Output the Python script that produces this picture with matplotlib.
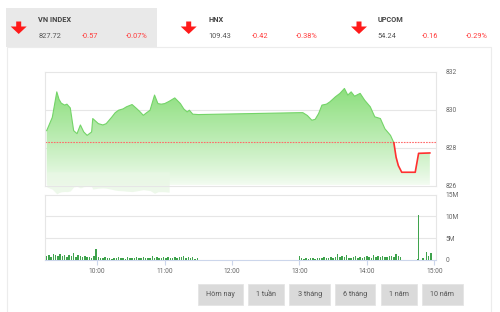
"""VN-Index intraday widget: price area + volume bars + header and range buttons."""
import matplotlib

matplotlib.use("Agg")
import matplotlib.pyplot as plt
import numpy as np
from matplotlib.patches import FancyArrow, Rectangle

plt.rcParams["font.family"] = ["Roboto", "DejaVu Sans"]

# ---- header quotes
INDEX_NAMES = ["VN INDEX", "HNX", "UPCOM"]
INDEX_VALUES = ["827.72", "109.43", "54.24"]
INDEX_CHANGES = ["-0.57", "-0.42", "-0.16"]
INDEX_PCTS = ["-0.07%", "-0.38%", "-0.29%"]

# ---- intraday price (time, index level)
PRICE_TIMES = [
    "09:15", "09:20", "09:24", "09:26", "09:28", "09:31", "09:33", "09:36", "09:39",
    "09:42", "09:45", "09:48", "09:51", "09:55", "09:56", "10:01", "10:05", "10:08",
    "10:13", "10:16", "10:19", "10:23", "10:26", "10:31", "10:35", "10:38", "10:41",
    "10:44", "10:47", "10:51", "10:54", "10:57", "11:00", "11:04", "11:09", "11:14",
    "11:17", "11:20", "11:22", "11:25", "11:30",
    "13:00", "13:03", "13:07", "13:11", "13:14", "13:17", "13:20", "13:24", "13:27",
    "13:32", "13:36", "13:40", "13:43", "13:46", "13:49", "13:54", "13:58", "14:03",
    "14:07", "14:12", "14:16", "14:21", "14:24", "14:26", "14:28", "14:31", "14:43",
    "14:46", "14:56",
]
PRICE_VALUES = [
    828.90, 829.60, 830.95, 830.55, 830.35, 830.25, 830.30, 830.10, 828.90,
    828.74, 829.20, 828.83, 828.65, 828.83, 829.54, 829.27, 829.20, 829.27,
    829.62, 829.85, 829.98, 830.05, 830.16, 830.28, 830.07, 829.90, 829.71,
    829.85, 829.98, 830.78, 830.33, 830.30, 830.33, 830.45, 830.63, 830.33,
    830.05, 829.89, 829.98, 829.77, 829.75,
    829.85, 829.85, 829.70, 829.45, 829.50, 829.80, 830.25, 830.30, 830.42,
    830.69, 830.87, 831.13, 830.78, 830.95, 830.72, 830.87, 830.51, 830.16,
    829.63, 829.54, 829.00, 828.65, 828.26, 827.49, 827.05, 826.70, 826.70,
    827.70, 827.72,
]
REFERENCE = 828.29

# ---- volume (millions of shares), sampled every 2 minutes in each session
VOL_STEP_MIN = 2
MORNING_START = "09:15"
MORNING_VOL = [
    1.0, 1.2, 0.8, 1.3, 1.1, 0.9, 1.4, 1.0, 1.2, 0.7, 1.1, 1.0, 1.6, 0.8, 1.2, 0.9,
    0.6, 1.0, 0.7, 0.8, 0.5, 0.9, 2.6, 0.6, 0.5, 0.4, 0.6, 0.4, 0.5, 0.3, 0.5, 0.4,
    0.6, 0.4, 0.5, 0.3, 0.6, 0.4, 0.5, 0.4, 0.7, 0.4, 0.5, 0.6, 0.4, 0.5, 0.4, 0.9,
    0.5, 0.6, 0.4, 0.5, 0.8, 0.4, 0.6, 0.5, 0.4, 0.7, 0.5, 0.8, 0.6, 0.9, 0.5, 0.7,
    0.4, 0.6, 0.3, 0.5,
]
AFTERNOON_START = "13:00"
AFTERNOON_VOL = [
    0.9, 0.4, 0.3, 0.4, 0.3, 0.4, 0.5, 0.3, 0.4, 0.5, 0.4, 0.6, 0.5, 0.4, 0.7, 0.5,
    0.6, 1.4, 0.8, 1.0, 0.6, 1.1, 0.5, 0.4, 0.6, 0.9, 0.5, 0.7, 0.4, 0.6, 1.0, 0.7,
    0.5, 1.1, 0.8, 0.9, 0.6, 1.0, 0.8, 0.7, 1.0, 0.9, 0.8, 1.4, 0.9, 0.7,
]
CLOSE_TIMES = ["14:45", "14:46", "14:50", "14:53", "14:55", "14:57"]
CLOSE_VOL = [0.2, 10.2, 0.5, 1.8, 0.9, 1.5]

HOUR_LABELS = ["10:00", "11:00", "12:00", "13:00", "14:00", "15:00"]
PRICE_TICKS = [826, 828, 830, 832]
VOL_TICKS = [0, 5, 10, 15]
VOL_TICK_LABELS = ["0", "5M", "10M", "15M"]
BUTTONS = ["Hôm nay", "1 tuần", "3 tháng", "6 tháng", "1 năm", "10 năm"]

GREEN_LINE = "#74d468"
GREEN_TOP = np.array([0.47, 0.85, 0.40])
RED = "#ff3030"
GRID = "#e6e6e6"
AXIS_BLUE = "#ccd6eb"
TXT = "#666666"


def minutes(hhmm):
    h, m = hhmm.split(":")
    return int(h) * 60 + int(m)


t_price = np.array([minutes(s) for s in PRICE_TIMES], dtype=float)
p = np.array(PRICE_VALUES)

fig = plt.figure(figsize=(5.0, 3.12), dpi=100, facecolor="white")

# overlay in pixel coordinates for the page chrome
ov = fig.add_axes([0, 0, 1, 1], zorder=0)
ov.set_xlim(0, 500)
ov.set_ylim(312, 0)
ov.axis("off")
ov.add_patch(Rectangle((7, 47), 484, 270, facecolor="white", edgecolor="#ececec", lw=0.8))
ov.add_patch(Rectangle((6, 8), 151, 39, facecolor="#e9e9e9", edgecolor="none"))

arrow_x = [18.7, 188.7, 359.0]
name_x = [38.3, 208.3, 377.7]
chg_x = [81.7, 251.7, 421.7]
pct_x = [126.0, 296.0, 466.0]
for i in range(3):
    ov.add_patch(FancyArrow(arrow_x[i], 21.5, 0, 12.5, width=5.0, head_width=16,
                            head_length=7.5, length_includes_head=True,
                            color="#ff1a1a", lw=0))
    ov.text(name_x[i], 20.5, INDEX_NAMES[i], fontsize=5.3, fontweight="bold",
            color="#444444", va="center", ha="left")
    ov.text(name_x[i], 36, INDEX_VALUES[i], fontsize=5.3, color="#555555",
            va="center", ha="left")
    ov.text(chg_x[i], 36, INDEX_CHANGES[i], fontsize=5.3, color="#ff3b3b",
            va="center", ha="left")
    ov.text(pct_x[i], 36, INDEX_PCTS[i], fontsize=5.3, color="#ff3b3b",
            va="center", ha="left")

btn_left = [198.3, 248.3, 289.3, 335.0, 380.7, 421.7]
btn_right = [243.3, 284.3, 330.0, 375.0, 417.3, 462.7]
for lab, l, r in zip(BUTTONS, btn_left, btn_right):
    ov.add_patch(Rectangle((l, 284), r - l, 21, facecolor="#dadada",
                           edgecolor="#e4e4e4", lw=0.6))
    ov.text((l + r) / 2, 294.5, lab, fontsize=5.2, color="#555555",
            ha="center", va="center")

XMIN, XMAX = 553.5, 901.5

# ---- price panel
ax = fig.add_axes([0.09, 1 - 185.5 / 312, 0.782, (185.5 - 72) / 312], zorder=1)
ax.set_facecolor("none")
ax.set_xlim(XMIN, XMAX)
ax.set_ylim(826, 832)

poly = ax.fill_between(t_price, p, 826, facecolor="none", edgecolor="none")
frac = np.linspace(0, 1, 256)[:, None]
a = 0.08 + 0.88 * frac ** 0.85
grad = (1 - a[..., None]) * np.ones(3) + a[..., None] * GREEN_TOP
im = ax.imshow(grad, extent=[XMIN, XMAX, 826, 832], origin="lower",
               aspect="auto", zorder=1)
im.set_clip_path(poly.get_paths()[0], transform=ax.transData)

# faint reflection under the morning curve (rendering artefact in the source)
morning = t_price <= minutes("11:07")
ax.fill_between(t_price[morning], 826.72, 825.8 - (p[morning] - 829.6) * 0.18,
                color="#e9f7e5", alpha=0.8, lw=0, clip_on=False, zorder=1.5)

cross = PRICE_TIMES.index("14:24")
ax.plot(t_price[:cross + 1], p[:cross + 1], color=GREEN_LINE, lw=0.8, zorder=3)
ax.plot(t_price[cross:], p[cross:], color=RED, lw=1.2, zorder=3)
ax.axhline(REFERENCE, color="#ff6b6b", lw=0.8, ls=(0, (1.5, 1)), zorder=2)

for v in (828, 830):
    ax.axhline(v, color=GRID, lw=0.8, zorder=0.6)
ax.yaxis.tick_right()
ax.set_yticks(PRICE_TICKS)
ax.set_yticklabels([str(v) for v in PRICE_TICKS])
ax.set_xticks([])
ax.tick_params(axis="y", length=0, pad=7, labelsize=4.8, labelcolor=TXT)
for s in ax.spines.values():
    s.set_color(GRID)
    s.set_linewidth(0.8)

# ---- volume panel
vax = fig.add_axes([0.09, 1 - 260 / 312, 0.782, (260 - 194.5) / 312], zorder=1)
vax.set_facecolor("none")
vax.set_xlim(XMIN, XMAX)
vax.set_ylim(0, 15)

t_m = minutes(MORNING_START) + VOL_STEP_MIN * np.arange(len(MORNING_VOL))
t_a = minutes(AFTERNOON_START) + VOL_STEP_MIN * np.arange(len(AFTERNOON_VOL))
t_c = np.array([minutes(s) for s in CLOSE_TIMES])
vt = np.concatenate([t_m, t_a, t_c])
vv = np.concatenate([MORNING_VOL, AFTERNOON_VOL, CLOSE_VOL])
vax.bar(vt, vv, width=1.3, color="#3fa34d", lw=0, zorder=3)

for v in (5, 10):
    vax.axhline(v, color=GRID, lw=0.8, zorder=0.6)
vax.yaxis.tick_right()
vax.set_yticks(VOL_TICKS)
vax.set_yticklabels(VOL_TICK_LABELS)
vax.tick_params(axis="y", length=0, pad=7, labelsize=4.8, labelcolor=TXT)
vax.set_xticks([minutes(s) for s in HOUR_LABELS])
vax.set_xticklabels(HOUR_LABELS)
vax.tick_params(axis="x", length=3.5, width=0.8, color=AXIS_BLUE, pad=2,
                labelsize=4.8, labelcolor=TXT)
for name, s in vax.spines.items():
    s.set_color(AXIS_BLUE if name == "bottom" else GRID)
    s.set_linewidth(0.8)

fig.savefig("out.png", dpi=100, facecolor="white")
